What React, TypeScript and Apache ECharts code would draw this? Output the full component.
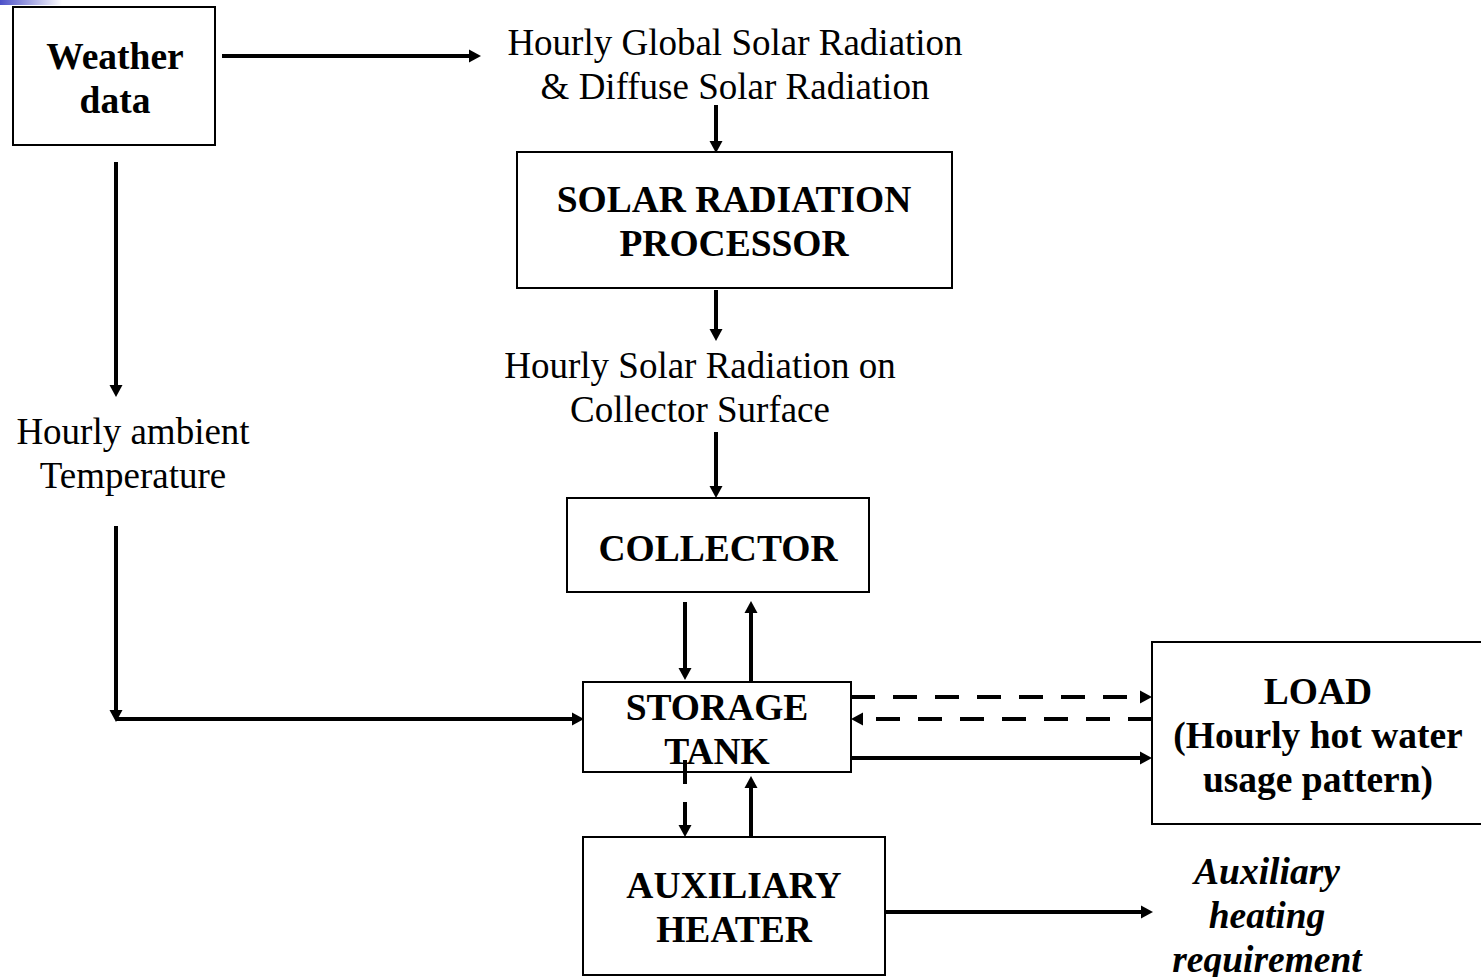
import React, { useEffect, useRef } from "react";
import * as echarts from "echarts";

const weatherLabel = ["Weather", "data"];
const globalRadLabel = ["Hourly Global Solar Radiation", "& Diffuse Solar Radiation"];
const processorLabel = ["SOLAR RADIATION", "PROCESSOR"];
const surfaceLabel = ["Hourly Solar Radiation on", "Collector Surface"];
const ambientLabel = ["Hourly ambient", "Temperature"];
const collectorLabel = ["COLLECTOR"];
const storageLabel = ["STORAGE", "TANK"];
const loadLabel = ["LOAD", "(Hourly hot water", "usage pattern)"];
const heaterLabel = ["AUXILIARY", "HEATER"];
const auxReqLabel = ["Auxiliary", "heating", "requirement"];

const FONT = "'Liberation Serif', 'Times New Roman', serif";
const LH = 44;

function box(x1: number, y1: number, x2: number, y2: number) {
  return {
    type: "rect",
    shape: { x: x1, y: y1, width: x2 - x1, height: y2 - y1 },
    style: { fill: "#fff", stroke: "#000", lineWidth: 2 },
    z: 1,
  };
}

function label(lines: string[], cx: number, cy: number, weight: string, italic = false) {
  return {
    type: "text",
    x: cx,
    y: cy,
    z: 5,
    style: {
      text: lines.join("\n"),
      fontFamily: FONT,
      fontSize: weight === "bold" ? 37.5 : 37,
      fontWeight: weight,
      fontStyle: italic ? "italic" : "normal",
      lineHeight: LH,
      fill: "#000",
      align: "center",
      verticalAlign: "middle",
    },
  };
}

function arrow(x1: number, y1: number, x2: number, y2: number, dashed = false, head = true) {
  const dx = x2 - x1;
  const dy = y2 - y1;
  const len = Math.sqrt(dx * dx + dy * dy);
  const ux = dx / len;
  const uy = dy / len;
  const hl = head ? 12 : 0;
  const hw = 6.5;
  const ex = x2 - ux * hl;
  const ey = y2 - uy * hl;
  const els: any[] = [
    {
      type: "line",
      z: 3,
      shape: { x1, y1, x2: ex + ux * 1, y2: ey + uy * 1 },
      style: {
        stroke: "#000",
        lineWidth: 4,
        lineDash: dashed ? [24, 18] : null,
      },
    },
  ];
  if (head) {
    els.push({
      type: "polygon",
      z: 3,
      shape: {
        points: [
          [x2, y2],
          [ex - uy * hw, ey + ux * hw],
          [ex + uy * hw, ey - ux * hw],
        ],
      },
      style: { fill: "#000" },
    });
  }
  return els;
}

export default function App() {
  const ref = useRef<HTMLDivElement>(null);
  useEffect(() => {
    if (!ref.current) return;
    const chart = echarts.init(ref.current, undefined, { renderer: "svg" });
    const elements: any[] = [
      {
        type: "rect",
        shape: { x: 0, y: 0, width: 62, height: 5 },
        style: {
          fill: new echarts.graphic.LinearGradient(0, 0, 1, 0, [
            { offset: 0, color: "#4b4fc8" },
            { offset: 1, color: "#ffffff" },
          ]),
        },
      },
      box(13, 7, 215, 145),
      box(517, 152, 952, 288),
      box(567, 498, 869, 592),
      box(583, 682, 851, 772),
      box(1152, 642, 1490, 824),
      box(583, 837, 885, 975),
      label(weatherLabel, 115, 78, "bold"),
      label(globalRadLabel, 735, 64, "normal"),
      label(processorLabel, 734, 221, "bold"),
      label(surfaceLabel, 700, 387, "normal"),
      label(ambientLabel, 133, 453, "normal"),
      label(collectorLabel, 718, 548, "bold"),
      label(storageLabel, 717, 729, "bold"),
      label(loadLabel, 1318, 735, "bold"),
      label(heaterLabel, 734, 907, "bold"),
      label(auxReqLabel, 1267, 915, "bold", true),
      ...arrow(222, 56, 481, 56),
      ...arrow(716, 105, 716, 153),
      ...arrow(716, 290, 716, 341),
      ...arrow(716, 432, 716, 498),
      ...arrow(685, 602, 685, 680),
      ...arrow(751, 681, 751, 601),
      ...arrow(851, 697, 1152, 697, true),
      ...arrow(1152, 719, 851, 719, true),
      ...arrow(851, 758, 1152, 758),
      ...arrow(116, 162, 116, 397),
      ...arrow(116, 526, 116, 722),
      ...arrow(116, 719, 584, 719),
      ...arrow(685, 760, 685, 837, true),
      ...arrow(751, 836, 751, 776),
      ...arrow(885, 912, 1153, 912),
    ];
    chart.setOption({
      animation: false,
      backgroundColor: "#ffffff",
      graphic: { elements },
    });
    return () => chart.dispose();
  }, []);
  return (
    <div
      ref={ref}
      style={{ position: "absolute", left: 0, top: 0, width: 1481, height: 977 }}
    />
  );
}
